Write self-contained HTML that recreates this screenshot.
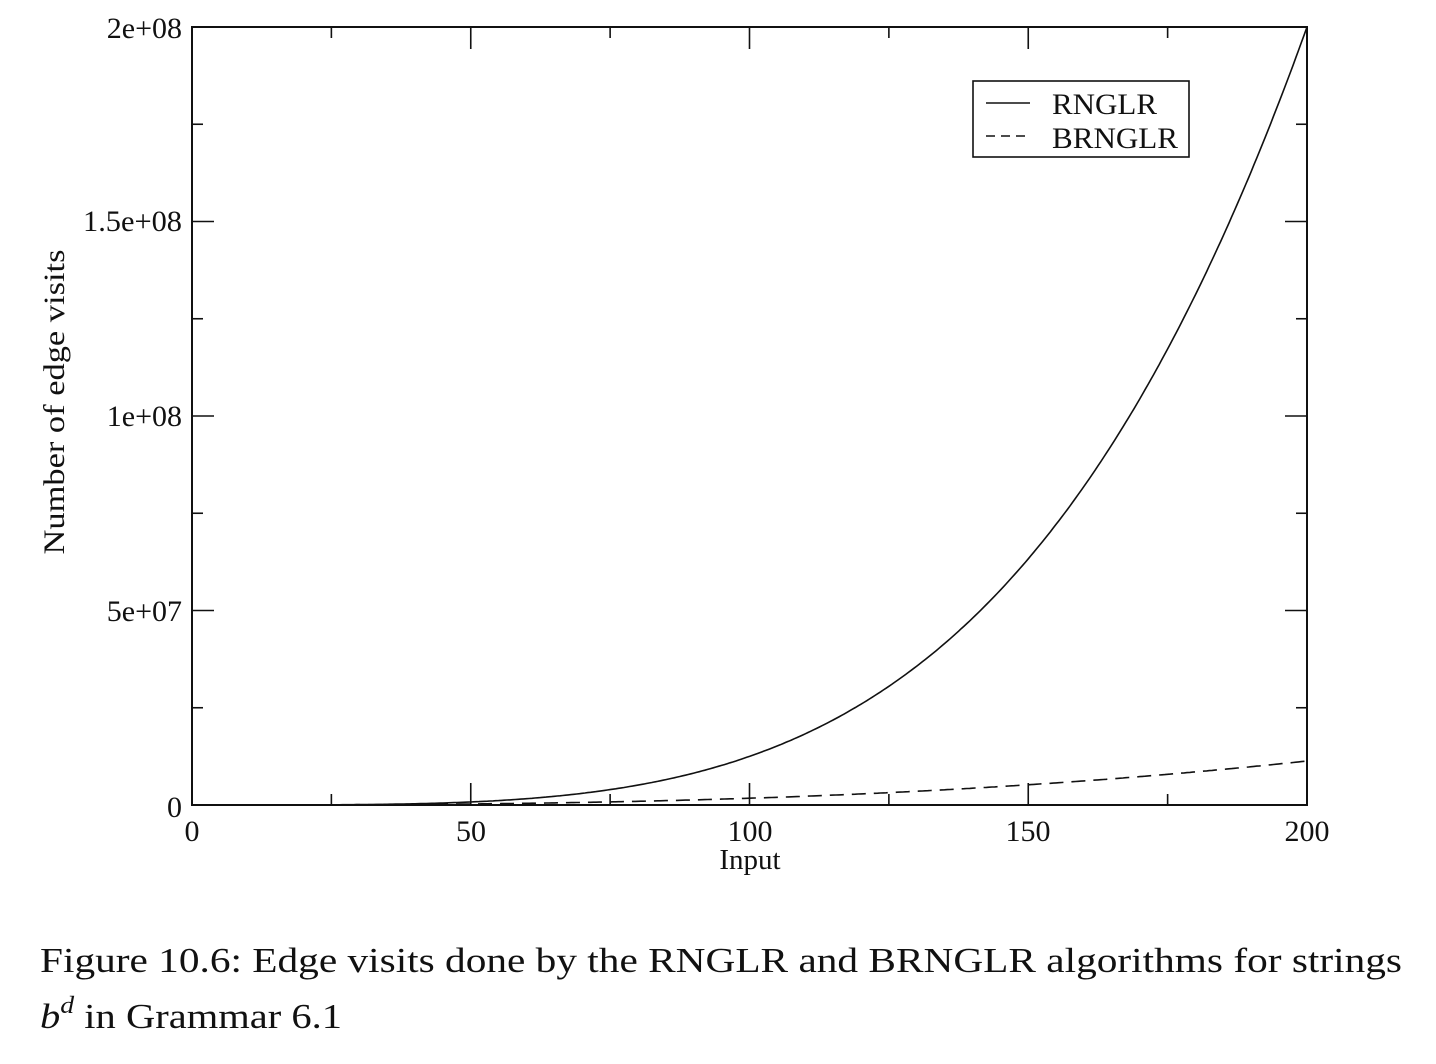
<!DOCTYPE html>
<html><head><meta charset="utf-8"><style>
html,body{margin:0;padding:0;background:#fff;}
svg{display:block;}
text{font-family:"Liberation Serif",serif;fill:#111;}
</style></head><body>
<svg id="s" width="1436" height="1064" viewBox="0 0 1436 1064" xmlns="http://www.w3.org/2000/svg">
<rect x="192" y="27" width="1115" height="778" fill="none" stroke="#111" stroke-width="2"/>
<g id="ticks" stroke="#111" stroke-width="1.6"></g>
<path id="r" fill="none" stroke="#111" stroke-width="1.6"/>
<path id="b" fill="none" stroke="#111" stroke-width="1.6" stroke-dasharray="14,8"/>
<g font-size="30">
<text x="182" y="38" text-anchor="end">2e+08</text>
<text x="182" y="231" text-anchor="end" textLength="99" lengthAdjust="spacingAndGlyphs">1.5e+08</text>
<text x="182" y="426" text-anchor="end">1e+08</text>
<text x="182" y="621" text-anchor="end">5e+07</text>
<text x="182" y="817" text-anchor="end">0</text>
<text x="192" y="841" text-anchor="middle">0</text>
<text x="471" y="841" text-anchor="middle">50</text>
<text x="750" y="841" text-anchor="middle">100</text>
<text x="1028" y="841" text-anchor="middle">150</text>
<text x="1307" y="841" text-anchor="middle">200</text>
</g>
<text x="750" y="869" text-anchor="middle" font-size="29">Input</text>
<text transform="translate(64,402) rotate(-90)" text-anchor="middle" font-size="30" textLength="305" lengthAdjust="spacingAndGlyphs">Number of edge visits</text>
<rect x="973" y="81" width="216" height="76" fill="#fff" stroke="#111" stroke-width="1.6"/>
<line x1="986" y1="103" x2="1030" y2="103" stroke="#111" stroke-width="1.6"/>
<line x1="986" y1="136" x2="1030" y2="136" stroke="#111" stroke-width="1.6" stroke-dasharray="9,6"/>
<text x="1052" y="114" font-size="30" textLength="105" lengthAdjust="spacingAndGlyphs">RNGLR</text>
<text x="1052" y="148" font-size="30" textLength="126" lengthAdjust="spacingAndGlyphs">BRNGLR</text>
<g font-size="35">
<text x="40" y="972" textLength="1362" lengthAdjust="spacingAndGlyphs">Figure 10.6: Edge visits done by the RNGLR and BRNGLR algorithms for strings</text>
<text x="40" y="1028" textLength="302" lengthAdjust="spacingAndGlyphs"><tspan font-style="italic">b</tspan><tspan font-style="italic" font-size="24" dy="-15">d</tspan><tspan dy="15"> in Grammar 6.1</tspan></text>
</g>
</svg>
<script>
var X0=192,X1=1307,Y0=805,Y1=27,W=X1-X0,H=Y0-Y1;
var t='';
for(var i=0;i<=8;i++){var x=X0+W*i/8,l=(i%2==0)?22:11;
t+='<line x1="'+x+'" y1="'+Y0+'" x2="'+x+'" y2="'+(Y0-l)+'"/><line x1="'+x+'" y1="'+Y1+'" x2="'+x+'" y2="'+(Y1+l)+'"/>';}
for(var j=0;j<=8;j++){var y=Y0-H*j/8,l=(j%2==0)?22:11;
t+='<line x1="'+X0+'" y1="'+y+'" x2="'+(X0+l)+'" y2="'+y+'"/><line x1="'+X1+'" y1="'+y+'" x2="'+(X1-l)+'" y2="'+y+'"/>';}
document.getElementById('ticks').innerHTML=t;
function p(e,top){var d='';for(var k=0;k<=400;k++){var f=k/400;var x=X0+W*f,y=Y0-top*Math.pow(f,e);d+=(k?'L':'M')+x.toFixed(1)+','+y.toFixed(1);}return d;}
document.getElementById('r').setAttribute('d',p(4,H));
document.getElementById('b').setAttribute('d',p(2.7,44));
</script>
</body></html>
